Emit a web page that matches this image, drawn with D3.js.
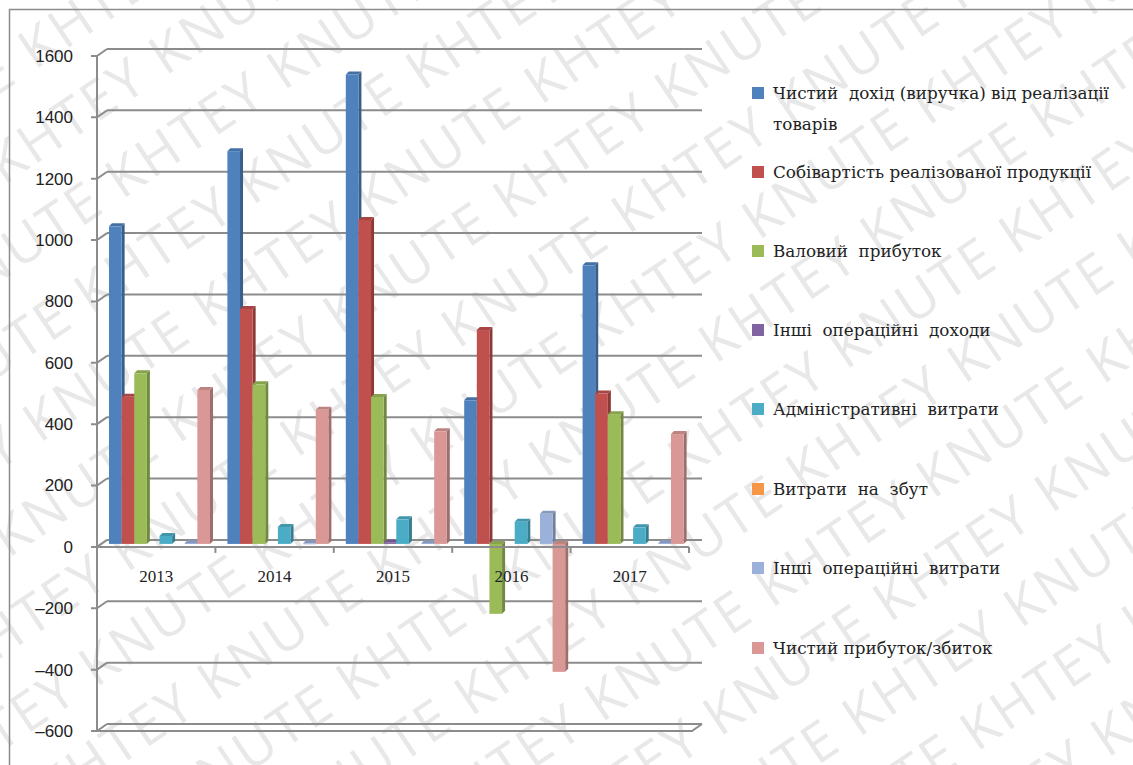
<!DOCTYPE html>
<html>
<head>
<meta charset="utf-8">
<script src="https://cdn.jsdelivr.net/npm/d3@7"></script>
<style>
  body { margin: 0; background: #fff; }
  svg { display: block; }
  .serif { font-family: "DejaVu Serif", serif; }
  .serif2 { font-family: "Liberation Serif", serif; }
</style>
</head>
<body>
<div id="chart"></div>
<script>
// data
var years = ["2013", "2014", "2015", "2016", "2017"];
var seriesNames = [
  "Чистий  дохід (виручка) від реалізації товарів",
  "Собівартість реалізованої продукції",
  "Валовий  прибуток",
  "Інші  операційні  доходи",
  "Адміністративні  витрати",
  "Витрати  на  збут",
  "Інші  операційні  витрати",
  "Чистий прибуток/збиток"
];
var netRevenue   = [1035, 1280, 1530, 468, 908];
var costOfSales  = [480, 766, 1056, 697, 490];
var grossProfit  = [556, 520, 479, -228, 423];
var otherIncome  = [0, 0, 5, 0, 0];
var adminCosts   = [26, 55, 80, 72, 54];
var sellingCosts = [0, 0, 0, 0, 0];
var otherCosts   = [3, 2, 3, 98, 3];
var netProfit    = [502, 437, 367, -417, 358];
var yTicks = [-600, -400, -200, 0, 200, 400, 600, 800, 1000, 1200, 1400, 1600];
var colors = ["#4F81BD", "#C0504D", "#9BBB59", "#8064A2", "#4BACC6", "#F79646", "#9BB1D9", "#D99795"];

var allSeries = [netRevenue, costOfSales, grossProfit, otherIncome, adminCosts, sellingCosts, otherCosts, netProfit];

var W = 1133, H = 765;
var depthX = 10, depthY = -7;

var svg = d3.select("#chart").append("svg")
  .attr("width", W).attr("height", H);

// watermark
var wm = svg.append("g").attr("transform", "rotate(-34)");
for (var r = -6; r < 22; r++) {
  wm.append("text")
    .attr("x", -900 + (r % 2) * 90)
    .attr("y", r * 78)
    .style("font-family", "'Open Sans', sans-serif")
    .style("font-size", "54px")
    .style("fill", "#e8e8e8")
    .style("letter-spacing", "3px")
    .text(d3.range(12).map(function(i){ return i % 2 ? "KNUTE" : "KHTEY"; }).join(" "));
}

// outer border
svg.append("path")
  .attr("d", "M9.5," + H + "V9.5H" + W)
  .attr("fill", "none").attr("stroke", "#8c8c8c").attr("stroke-width", 1.5);

var y = d3.scaleLinear().domain([-600, 1600]).range([731, 56]);
var x0 = d3.scaleBand().domain(years).range([97, 689]);
var x1 = d3.scaleBand().domain(d3.range(8)).range([0, 101]);

// back wall grid lines
var grid = svg.append("g");
yTicks.forEach(function(t) {
  var yy = y(t);
  grid.append("line")
    .attr("x1", 97 + depthX).attr("x2", 702)
    .attr("y1", yy + depthY).attr("y2", yy + depthY)
    .attr("stroke", "#8c8c8c").attr("stroke-width", 2);
  grid.append("path")
    .attr("d", "M91," + yy + "H97L" + (97 + depthX) + "," + (yy + depthY))
    .attr("fill", "none").attr("stroke", "#8c8c8c").attr("stroke-width", 2);
});

// floor at -600 front edge
svg.append("path")
  .attr("d", "M97," + y(-600) + "H" + (702 - depthX) + "L702," + (y(-600) + depthY))
  .attr("fill", "none").attr("stroke", "#8c8c8c").attr("stroke-width", 2);

// front vertical axis
svg.append("line")
  .attr("x1", 97).attr("x2", 97)
  .attr("y1", y(1600)).attr("y2", y(-600))
  .attr("stroke", "#8c8c8c").attr("stroke-width", 2);

// y labels
svg.append("g").selectAll("text").data(yTicks).join("text")
  .attr("x", 73).attr("y", function(d){ return y(d); })
  .attr("dy", "0.35em")
  .attr("text-anchor", "end")
  .style("font-family", "'Liberation Sans', Arial, sans-serif")
  .style("font-size", "17px")
  .style("fill", "#222")
  .text(function(d){ return d < 0 ? "\u2013" + Math.abs(d) : d; });

// bars
var bx = 3, by = -3; // bar depth offset
var baseY = y(0) - 3;
function yb(v) { return y(v) - 3; }
var bars = svg.append("g");
years.forEach(function(yr, i) {
  allSeries.forEach(function(s, k) {
    var v = s[i];
    if (v === 0) return;
    var xl = x0(yr) + 12 + x1(k);
    var w = x1.bandwidth();
    var top = Math.min(yb(v), baseY), bot = Math.max(yb(v), baseY);
    var c = d3.color(colors[k]);
    // side face
    bars.append("path")
      .attr("d", "M" + (xl + w) + "," + top + "l" + bx + "," + by + "V" + (bot + by) + "l" + (-bx) + "," + (-by) + "Z")
      .attr("fill", c.darker(0.9));
    // top face
    bars.append("path")
      .attr("d", "M" + xl + "," + top + "l" + bx + "," + by + "h" + w + "l" + (-bx) + "," + (-by) + "Z")
      .attr("fill", c.darker(0.4));
    // front face
    bars.append("rect")
      .attr("x", xl).attr("y", top)
      .attr("width", w).attr("height", Math.max(bot - top, 1))
      .attr("fill", c);
  });
});

// category axis (front floor edge at 0)
svg.append("line")
  .attr("x1", 97).attr("x2", 689)
  .attr("y1", y(0)).attr("y2", y(0))
  .attr("stroke", "#8c8c8c").attr("stroke-width", 2);
svg.append("g").selectAll("line").data(years.concat(["end"])).join("line")
  .attr("x1", function(d){ return d === "end" ? 689 : x0(d); })
  .attr("x2", function(d){ return d === "end" ? 689 : x0(d); })
  .attr("y1", y(0)).attr("y2", y(0) + 6)
  .attr("stroke", "#8c8c8c").attr("stroke-width", 2);

svg.append("g").selectAll("text").data(years).join("text")
  .attr("class", "serif2")
  .attr("x", function(d){ return x0(d) + x0.bandwidth() / 2; })
  .attr("y", 582)
  .attr("text-anchor", "middle")
  .style("font-size", "17px")
  .style("fill", "#222")
  .text(function(d){ return d; });

// legend
var legendY = [93, 172, 251, 330, 409, 489, 568, 648];
var legend = svg.append("g");
seriesNames.forEach(function(name, k) {
  var ly = legendY[k];
  legend.append("rect")
    .attr("x", 752).attr("y", ly - 6)
    .attr("width", 12).attr("height", 12)
    .attr("fill", colors[k]);
  var t = legend.append("text")
    .attr("class", "serif")
    .attr("x", 773).attr("y", ly + 6)
    .style("font-size", "16.8px")
    .style("fill", "#222")
    .style("white-space", "pre");
  if (k === 0) {
    t.append("tspan").text("Чистий  дохід (виручка) від реалізації");
    t.append("tspan").attr("x", 773).attr("dy", 31).text("товарів");
  } else {
    t.text(name);
  }
});
</script>
</body>
</html>
